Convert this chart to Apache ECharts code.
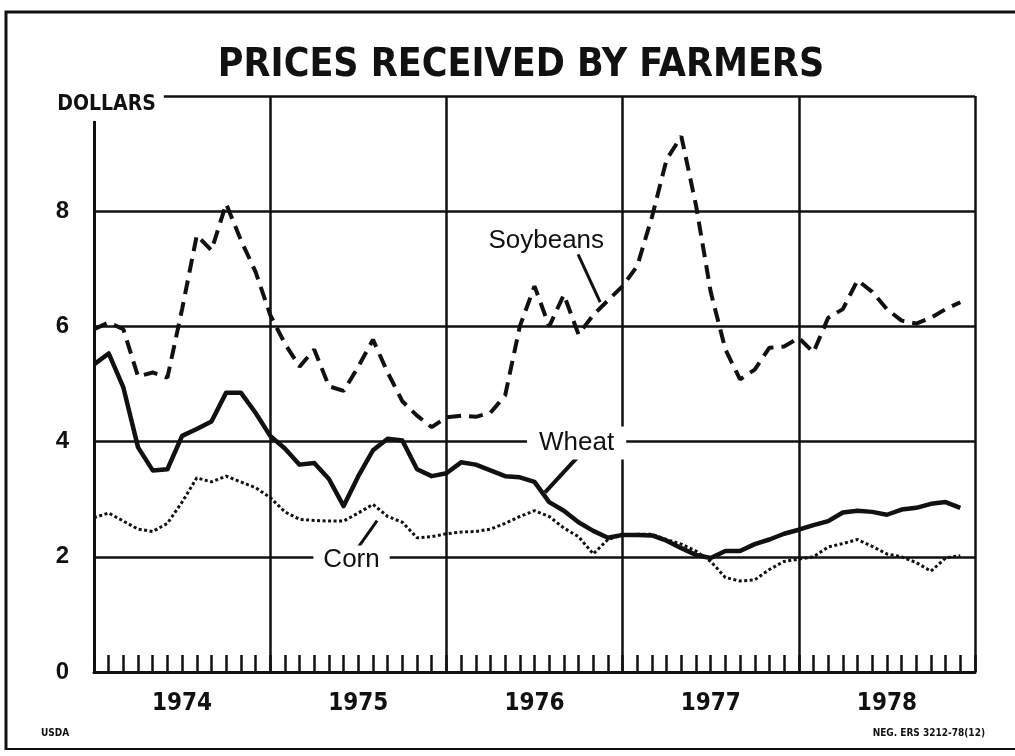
<!DOCTYPE html>
<html><head><meta charset="utf-8">
<script src="https://cdn.jsdelivr.net/npm/echarts@6/dist/echarts.min.js"></script>
<style>html,body{margin:0;padding:0;background:#fff}#c{width:1015px;height:756px}</style>
</head><body><div id="c"></div>
<script>
// Monthly prices (dollars), index 0 = first month of 1974 panel
const yearLabels = ['1974', '1975', '1976', '1977', '1978'];
const yTickLabels = [0, 2, 4, 6, 8];
const soybeans = [5.95, 6.07, 5.95, 5.13, 5.2, 5.11, 6.3, 7.58, 7.32, 8.13, 7.5, 6.95,
  6.2, 5.7, 5.3, 5.6, 4.96, 4.88, 5.3, 5.77, 5.2, 4.7, 4.45, 4.25,
  4.42, 4.45, 4.43, 4.5, 4.8, 6.0, 6.7, 6.0, 6.55, 5.86, 6.2, 6.45,
  6.7, 7.05, 7.9, 8.9, 9.3, 8.1, 6.6, 5.6, 5.08, 5.25, 5.63, 5.65,
  5.8, 5.55, 6.15, 6.3, 6.8, 6.6, 6.3, 6.1, 6.05, 6.15, 6.3, 6.42];
const wheat = [5.34, 5.53, 4.94, 3.9, 3.5, 3.52, 4.1, 4.22, 4.35, 4.85, 4.85, 4.5,
  4.1, 3.88, 3.6, 3.63, 3.35, 2.88, 3.4, 3.85, 4.05, 4.02, 3.52, 3.4,
  3.45, 3.64, 3.6, 3.5, 3.4, 3.38, 3.3, 2.95, 2.8, 2.6, 2.45, 2.33,
  2.38, 2.38, 2.37, 2.28, 2.15, 2.03, 1.98, 2.1, 2.1, 2.22, 2.3, 2.4,
  2.47, 2.55, 2.62, 2.77, 2.8, 2.78, 2.73, 2.82, 2.85, 2.92, 2.95, 2.85];
const corn = [2.68, 2.76, 2.62, 2.48, 2.44, 2.58, 2.95, 3.37, 3.3, 3.4, 3.3, 3.2,
  3.03, 2.78, 2.65, 2.63, 2.62, 2.62, 2.76, 2.91, 2.7, 2.6, 2.33, 2.35,
  2.4, 2.43, 2.44, 2.48, 2.58, 2.7, 2.8, 2.7, 2.5, 2.35, 2.05, 2.3,
  2.38, 2.39, 2.39, 2.3, 2.22, 2.1, 1.92, 1.64, 1.58, 1.6, 1.78, 1.92,
  1.96, 2.0, 2.17, 2.23, 2.3, 2.18, 2.05, 2.0, 1.9, 1.75, 1.98, 2.02];
// annotation anchors in data units [month, dollars]
const soyLabelAt = [30.8, 7.49];
const soyLeader = [[32.97, 7.25], [34.47, 6.42]];
const wheatLabelAt = [32.87, 3.976];
const wheatLeader = [[32.9, 3.72], [30.72, 3.12]];
const cornLabelAt = [17.54, 1.953];
const cornLeader = [[17.98, 2.16], [19.28, 2.63]];

const pairs = arr => arr.map((v, i) => [i, v]);
const NARROW = "'Liberation Sans Narrow', 'Arial Narrow', 'DejaVu Sans Condensed', sans-serif";
const SANS = "'Liberation Sans', Arial, Helvetica, sans-serif";
const INK = '#111';

const chart = echarts.init(document.getElementById('c'), null, {renderer: 'canvas'});
const labelMP = (coord, text, pad, bg) => ({
  coord: coord, symbol: 'rect', symbolSize: 1, itemStyle: {color: 'rgba(0,0,0,0)'},
  label: {show: true, position: 'inside', formatter: text, color: INK, fontFamily: SANS,
    fontSize: 26, lineHeight: 28, backgroundColor: bg ? '#fff' : 'transparent', padding: pad}
});
const leaderML = seg => [{coord: seg[0]}, {coord: seg[1]}];

chart.setOption({
  animation: false,
  backgroundColor: '#fff',
  title: {
    text: 'PRICES RECEIVED BY FARMERS', left: 516, top: 41, textAlign: 'center',
    textStyle: {fontFamily: NARROW, fontWeight: 'bold', fontSize: 39, color: INK}
  },
  grid: {left: 94, right: 40, top: 96, bottom: 84, containLabel: false},
  xAxis: [{
    type: 'value', min: 0, max: 60, interval: 1,
    axisLine: {show: true, lineStyle: {color: INK, width: 3}},
    axisTick: {show: true, inside: true, length: 17, lineStyle: {color: INK, width: 2.5}},
    axisLabel: {
      show: true, margin: 20, color: INK, fontFamily: NARROW, fontWeight: 'bold', fontSize: 24,
      formatter: v => (v % 12 === 6 ? yearLabels[(v - 6) / 12] : '')
    },
    splitLine: {show: false}
  }, {
    type: 'value', min: 0, max: 60, interval: 12, position: 'bottom',
    axisLine: {show: false}, axisTick: {show: false}, axisLabel: {show: false},
    splitLine: {show: true, showMinLine: false, lineStyle: {color: INK, width: 2.5}}
  }],
  yAxis: {
    type: 'value', min: 0, max: 10, interval: 2,
    axisLine: {show: true, lineStyle: {color: INK, width: 3}},
    axisTick: {show: false},
    axisLabel: {
      show: true, margin: 25, color: INK, fontFamily: SANS, fontWeight: 'bold', fontSize: 24,
      formatter: v => (yTickLabels.indexOf(v) >= 0 ? String(v) : '')
    },
    splitLine: {show: true, lineStyle: {color: INK, width: 2.5}}
  },
  graphic: [
    {type: 'polyline', z: 100, shape: {points: [[6, 750], [6, 12], [1015, 12]]},
      style: {stroke: INK, lineWidth: 3, fill: null}},
    {type: 'line', z: 100, shape: {x1: 6, y1: 749, x2: 1015, y2: 749},
      style: {stroke: INK, lineWidth: 2}},
    {type: 'text', z: 100, style: {text: 'DOLLARS', x: 106.5, y: 104.5, align: 'center',
      verticalAlign: 'middle', fill: INK, font: "bold 21px " + NARROW,
      backgroundColor: '#fff', padding: [6, 8, 6, 8]}},
    {type: 'text', z: 100, style: {text: 'USDA', x: 41, y: 733, align: 'left',
      verticalAlign: 'middle', fill: INK, font: "bold 10px " + NARROW}},
    {type: 'text', z: 100, style: {text: 'NEG. ERS 3212-78(12)', x: 985, y: 733, align: 'right',
      verticalAlign: 'middle', fill: INK, font: "bold 10px " + NARROW}}
  ],
  series: [{
    name: 'Soybeans', type: 'line', data: pairs(soybeans), symbol: 'none', smooth: false,
    lineStyle: {color: INK, width: 4, type: [14, 8], cap: 'butt'},
    markPoint: {silent: true, data: [labelMP(soyLabelAt, 'Soybeans', [0, 0], false)]},
    markLine: {silent: true, symbol: ['none', 'none'], label: {show: false},
      lineStyle: {type: 'solid', color: INK, width: 3}, data: [leaderML(soyLeader)]}
  }, {
    name: 'Wheat', type: 'line', data: pairs(wheat), symbol: 'none', smooth: false,
    lineStyle: {color: INK, width: 4.5, type: 'solid', join: 'round'},
    markPoint: {silent: true, data: [labelMP(wheatLabelAt, 'Wheat', [2, 12, 3, 12], true)]},
    markLine: {silent: true, symbol: ['none', 'none'], label: {show: false},
      lineStyle: {type: 'solid', color: INK, width: 4}, data: [leaderML(wheatLeader)]}
  }, {
    name: 'Corn', type: 'line', data: pairs(corn), symbol: 'none', smooth: false,
    lineStyle: {color: INK, width: 3, type: [3, 2.5], cap: 'butt'},
    markPoint: {silent: true, data: [labelMP(cornLabelAt, 'Corn', [0, 10, 0, 10], true)]},
    markLine: {silent: true, symbol: ['none', 'none'], label: {show: false},
      lineStyle: {type: 'solid', color: INK, width: 3}, data: [leaderML(cornLeader)]}
  }]
});
</script></body></html>
